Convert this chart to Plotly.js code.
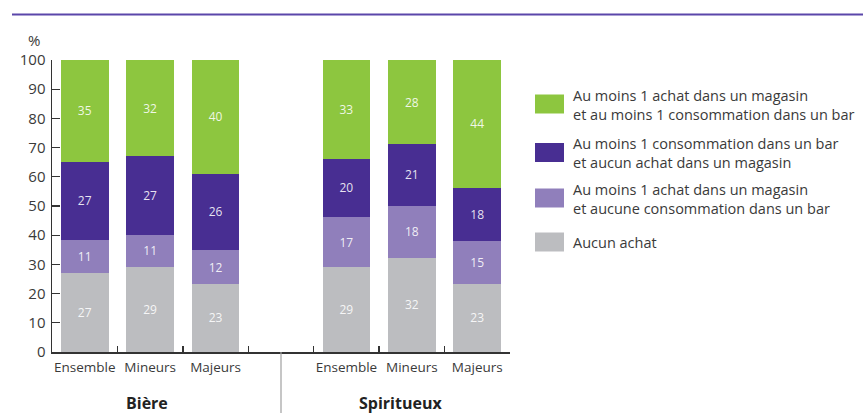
<!DOCTYPE html>
<html>
<head>
<meta charset="utf-8">
<script src="https://cdn.plot.ly/plotly-3.0.1.min.js"></script>
<style>html,body{margin:0;padding:0;background:#fff;}#chart{width:863px;height:419px;}</style>
</head>
<body>
<div id="chart"></div>
<script>
// Category positions (slot 3 is the gap between the two groups)
const positions = [0, 1, 2, 4, 5, 6];
const categories = ["Ensemble", "Mineurs", "Majeurs", "Ensemble", "Mineurs", "Majeurs"];
const groups = ["Bière", "Spiritueux"];

// Series names (legend), one array of lines per series
const seriesNames = [
  ["Aucun achat"],
  ["Au moins 1 achat dans un magasin", "et aucune consommation dans un bar"],
  ["Au moins 1 consommation dans un bar", "et aucun achat dans un magasin"],
  ["Au moins 1 achat dans un magasin", "et au moins 1 consommation dans un bar"]
];
const seriesColors = ["#bcbdc0", "#907fbb", "#482e92", "#8dc63f"];

// Bar heights (%)
const aucunAchat      = [27.1, 29.1, 23.3, 29.1, 32.2, 23.3];
const achatSansBar    = [11.3, 11.0, 11.6, 17.1, 17.9, 14.7];
const barSansAchat    = [26.7, 27.0, 26.1, 20.0, 21.1, 18.3];
const achatEtBar      = [34.9, 32.9, 39.0, 33.8, 28.8, 43.7];

// Printed labels
const lblAucunAchat   = [27, 29, 23, 29, 32, 23];
const lblAchatSansBar = [11, 11, 12, 17, 18, 15];
const lblBarSansAchat = [27, 27, 26, 20, 21, 18];
const lblAchatEtBar   = [35, 32, 40, 33, 28, 44];

const yTicks = [0,10,20,30,40,50,60,70,80,90,100];

const seriesValues = [aucunAchat, achatSansBar, barSansAchat, achatEtBar];
const seriesLabels = [lblAucunAchat, lblAchatSansBar, lblBarSansAchat, lblAchatEtBar];

const FONT = '"Open Sans", "Noto Sans", sans-serif';
const TXT = '#3a3a3a';

const traces = seriesValues.map((vals, i) => ({
  type: 'bar',
  x: positions,
  y: vals,
  name: seriesNames[i].join(' '),
  width: 0.73,
  marker: {color: seriesColors[i], line: {width: 0}},
  text: seriesLabels[i].map(String),
  textposition: 'inside',
  insidetextanchor: 'middle',
  textangle: 0,
  constraintext: 'none',
  textfont: {family: FONT, size: 12, color: 'rgba(255,255,255,0.88)'},
  hoverinfo: 'skip',
  showlegend: false
}));

// plot area in pixels
const L = 52, R = 510, T = 60, B = 352;
const W = 863, H = 419;
const px = x => (x - L) / (R - L);
const py = y => (B - y) / (B - T);

const shapes = [];
const annotations = [];

// top purple rule
shapes.push({type:'line', xref:'paper', yref:'paper', x0: px(12), x1: px(863), y0: py(14.5), y1: py(14.5),
  line:{color:'#5b46aa', width:2}});

// separator between groups
shapes.push({type:'line', xref:'x', yref:'paper', x0: 3, x1: 3, y0: 0, y1: py(413),
  line:{color:'#a0a0a0', width:1.2}});

// group labels
annotations.push({xref:'x', yref:'paper', x: 0.95, y: py(403), text: '<b>'+groups[0]+'</b>', showarrow:false,
  font:{family:FONT, size:16, color:'#222'}, xanchor:'center', yanchor:'middle'});
annotations.push({xref:'x', yref:'paper', x: 4.83, y: py(403), text: '<b>'+groups[1]+'</b>', showarrow:false,
  font:{family:FONT, size:16, color:'#222'}, xanchor:'center', yanchor:'middle'});

// % unit
annotations.push({xref:'paper', yref:'paper', x: px(34), y: py(40), text: '%', showarrow:false,
  font:{family:FONT, size:15, color:TXT}, xanchor:'center', yanchor:'middle'});

// manual legend (top to bottom: green, dark purple, light purple, gray)
const legendOrder = [3, 2, 1, 0];
const legendCenters = [104, 152.5, 198, 242];
legendOrder.forEach((si, k) => {
  const c = legendCenters[k];
  shapes.push({type:'rect', xref:'paper', yref:'paper', x0: px(535), x1: px(564), y0: py(c-9.5), y1: py(c+9.5),
    fillcolor: seriesColors[si], line:{width:0}});
  annotations.push({xref:'paper', yref:'paper', x: px(572), y: py(c + 0.5), text: seriesNames[si].join('<br>'),
    showarrow:false, align:'left', xanchor:'left', yanchor:'middle', borderpad: 0,
    font:{family:FONT, size:14.5, color:TXT}});
});

const layout = {
  width: W, height: H,
  margin: {l: L, r: W - R, t: T, b: H - B, pad: 0},
  paper_bgcolor: '#fff', plot_bgcolor: '#fff',
  barmode: 'stack',
  showlegend: false,
  font: {family: FONT, color: TXT},
  xaxis: {
    range: [-0.5, 6.5], tickvals: positions, ticktext: categories,
    ticks: '', showgrid: false, zeroline: false, showline: false,
    tickfont: {family: FONT, size: 13.5, color: TXT}, ticklabelstandoff: 5,
    fixedrange: true
  },
  xaxis2: {
    overlaying: 'x', anchor: 'y', side: 'bottom', range: [-0.5, 6.5],
    tickvals: [0.5, 1.5, 2.5, 3.5, 4.5, 5.5, 6.5], showticklabels: false,
    ticks: 'inside', ticklen: 6, tickwidth: 1.3, tickcolor: '#333',
    showline: true, linecolor: '#333', linewidth: 1.5, showgrid: false, zeroline: false
  },
  yaxis: {
    range: [0, 100], tickvals: yTicks, ticks: 'inside', ticklen: 8, tickwidth: 1.3, tickcolor: '#333',
    showline: true, linecolor: '#333', linewidth: 1.5, showgrid: false, zeroline: false,
    tickfont: {family: FONT, size: 15, color: TXT}, ticklabelstandoff: 2
  },
  shapes: shapes,
  annotations: annotations
};

// invisible trace to activate xaxis2
traces.push({type:'scatter', x:[-0.5], y:[0], xaxis:'x2', yaxis:'y', mode:'markers',
  marker:{opacity:0}, hoverinfo:'skip', showlegend:false});

Plotly.newPlot('chart', traces, layout, {staticPlot: true, displayModeBar: false});
</script>
</body>
</html>
